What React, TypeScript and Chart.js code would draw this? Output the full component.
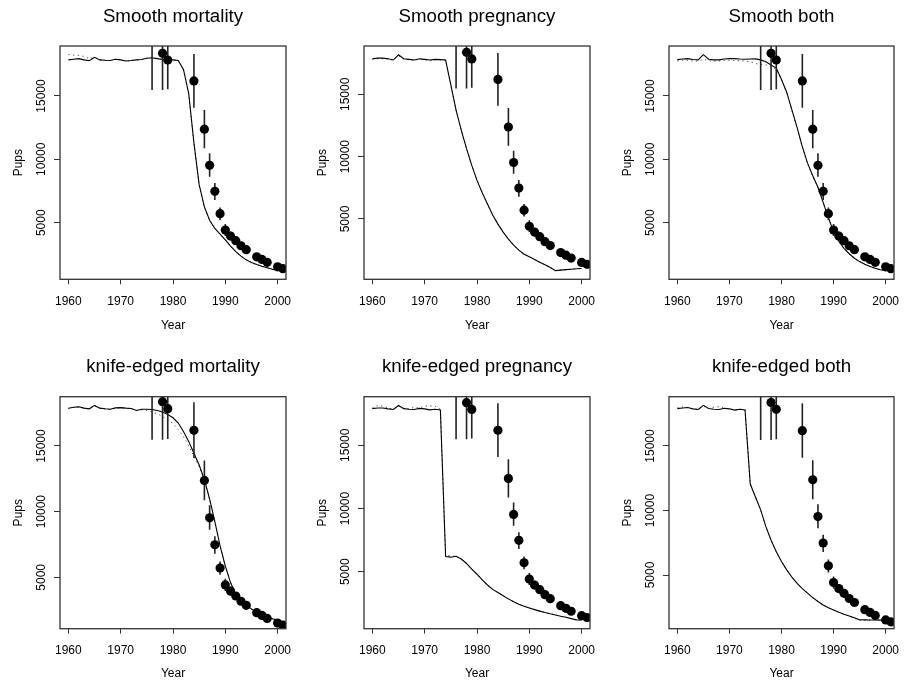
import { useEffect, useRef } from "react";
import { Chart, registerables } from "chart.js";

Chart.register(...registerables);
Chart.defaults.font.family = "'Liberation Sans', Arial, Helvetica, sans-serif";
Chart.defaults.color = "#000";

// ---------------- data ----------------
const years = [
  1960, 1961, 1962, 1963, 1964, 1965, 1966, 1967, 1968, 1969,
  1970, 1971, 1972, 1973, 1974, 1975, 1976, 1977, 1978, 1979,
  1980, 1981, 1982, 1983, 1984, 1985, 1986, 1987, 1988, 1989,
  1990, 1991, 1992, 1993, 1994, 1995, 1996, 1997, 1998, 1999,
  2000,
];
const yearTicks = [1960, 1970, 1980, 1990, 2000];
const pupTicks = [5000, 10000, 15000];

const obsYears = [1976, 1978, 1979, 1984, 1986, 1987, 1988, 1989, 1990, 1991, 1992, 1993, 1994, 1996, 1997, 1998, 2000, 2001];
const obsPups = [19500, 18370, 17840, 16190, 12380, 9530, 7480, 5710, 4420, 3950, 3580, 3180, 2870, 2310, 2100, 1870, 1520, 1370];
const obsLower = [15470, 15470, 15530, 14080, 10870, 8630, 6790, 5200, 3950, 3600, 3280, 2950, 2650, 2120, 1930, 1720, 1400, 1260];
const obsUpper = [23500, 21300, 20150, 18320, 13900, 10480, 8130, 6210, 4890, 4300, 3880, 3410, 3090, 2500, 2270, 2020, 1640, 1480];

const smoothMortalityFit = [
  17850, 17900, 17950, 17850, 17780, 18050, 17850, 17820, 17800, 17900,
  17850, 17760, 17800, 17850, 17880, 17980, 18020, 17950, 17880, 17860,
  17850, 17800, 17100, 15200, 11300, 8000, 6250, 5200, 4550, 4100,
  3650, 3150, 2720, 2360, 2070, 1860, 1700, 1570, 1450, 1330,
  1240,
];
const smoothMortalityAlt = [
  18260, 18230, 18200, 18120, 17950, 18050, 17850, 17820, 17800, 17900,
  17850, 17760, 17800, 17850, 17880, 17980, 18020, 17950, 17880, 17860,
  17850, 17780, 17050, 15100, 11250, 7950, 6230, 5180, 4540, 4090,
  3640, 3140, 2710, 2350, 2060, 1850, 1690, 1560, 1440, 1320,
  1230,
];
const smoothPregnancyFit = [
  17850, 17900, 17900, 17850, 17750, 18170, 17850, 17800, 17750, 17850,
  17800, 17750, 17800, 17780, 17750, 15750, 13740, 12110, 10640, 9300,
  8100, 7100, 6200, 5320, 4590, 3950, 3390, 2900, 2500, 2180,
  1965, 1755, 1540, 1325, 1115, 860, 900, 940, 975, 1005,
  1030,
];
const smoothPregnancyAlt = [
  17800, 17850, 17850, 17800, 17750, 18100, 17800, 17780, 17720, 17820,
  17780, 17720, 17780, 17760, 17720, 15750, 13740, 12110, 10640, 9300,
  8100, 7100, 6200, 5320, 4590, 3950, 3390, 2900, 2500, 2180,
  1965, 1755, 1540, 1325, 1115, 860, 900, 940, 975, 1005,
  1030,
];
const smoothBothFit = [
  17870, 17920, 17950, 17880, 17850, 18260, 17900, 17850, 17850, 17920,
  17950, 17950, 17920, 17900, 17920, 17930, 17850, 17700, 17450, 17200,
  16300, 15300, 13900, 12500, 11000, 9700, 8700, 7800, 6600, 5400,
  4300, 3550, 2980, 2550, 2200, 1930, 1720, 1550, 1400, 1290,
  1220,
];
const smoothBothAlt = [
  17780, 17800, 17820, 17760, 17750, 17900, 17780, 17750, 17760, 17800,
  17820, 17800, 17780, 17760, 17700, 17550, 17500, 17450, 17350, 17100,
  16250, 15250, 13850, 12450, 10950, 9650, 8650, 7750, 6550, 5350,
  4250, 3500, 2950, 2520, 2170, 1900, 1700, 1530, 1380, 1270,
  1210,
];
const knifeMortalityFit = [
  17870, 17950, 17980, 17880, 17830, 18090, 17880, 17830, 17800, 17900,
  17920, 17880, 17850, 17700, 17800, 17800, 17780, 17700, 17580, 17400,
  17150, 16750, 16100, 15350, 14450, 13550, 12450, 10950, 9250, 7400,
  5850, 4600, 3700, 3200, 2870, 2600, 2360, 2150, 1980, 1850,
  1743,
];
const knifeMortalityAlt = [
  17850, 17930, 17960, 17870, 17820, 18060, 17870, 17820, 17790, 17890,
  17900, 17860, 17830, 17700, 17750, 17700, 17600, 17450, 17250, 17000,
  16700, 16250, 15700, 15000, 14200, 13400, 12400, 10950, 9250, 7400,
  5850, 4600, 3700, 3200, 2870, 2600, 2360, 2150, 1980, 1850,
  1743,
];
const knifePregnancyFit = [
  17900, 17950, 17950, 17880, 17830, 18150, 17900, 17850, 17830, 17920,
  17880, 17800, 17850, 17800, 6200, 6150, 6220, 6000, 5650, 5200,
  4800, 4350, 3950, 3600, 3350, 3100, 2850, 2620, 2420, 2270,
  2130, 2000, 1880, 1770, 1670, 1580, 1480, 1390, 1290, 1190,
  1180,
];
const knifePregnancyAlt = [
  17950, 18150, 18100, 17950, 17850, 18100, 17920, 17880, 18000, 17950,
  18100, 18120, 18100, 17850, 6300, 6250, 6230, 6000, 5650, 5200,
  4800, 4350, 3950, 3600, 3350, 3100, 2850, 2620, 2420, 2270,
  2130, 2000, 1880, 1770, 1670, 1580, 1480, 1390, 1290, 1190,
  1180,
];
const knifeBothFit = [
  17900, 17950, 17980, 17880, 17830, 18150, 17900, 17850, 17830, 17920,
  17880, 17780, 17850, 17800, 12050, 11050, 10050, 8750, 7700, 6800,
  6050, 5400, 4830, 4350, 3950, 3600, 3250, 2950, 2680, 2460,
  2280, 2110, 1960, 1830, 1690, 1530, 1520, 1515, 1510, 1505,
  1504,
];
const knifeBothAlt = [
  17950, 18050, 17980, 17880, 17830, 18100, 17900, 18000, 18050, 17920,
  17880, 17780, 17850, 17800, 12050, 11050, 10050, 8750, 7700, 6800,
  6050, 5400, 4830, 4350, 3950, 3600, 3250, 2950, 2680, 2460,
  2280, 2110, 1950, 1800, 1640, 1480, 1500, 1510, 1510, 1505,
  1504,
];

const panelTitles = [
  "Smooth mortality", "Smooth pregnancy", "Smooth both",
  "knife-edged mortality", "knife-edged pregnancy", "knife-edged both",
];
const panelFits = [smoothMortalityFit, smoothPregnancyFit, smoothBothFit, knifeMortalityFit, knifePregnancyFit, knifeBothFit];
const panelAlts = [smoothMortalityAlt, smoothPregnancyAlt, smoothBothAlt, knifeMortalityAlt, knifePregnancyAlt, knifeBothAlt];
const panelYMin = [534, 164, 534, 1089, 491, 838];
const panelYMax = [18945, 18874, 18945, 18752, 18845, 18821];
const xMin = 1958.4;
const xMax = 2001.6;

// ---------------- layout (pixels) ----------------
const colBoxLeft = [60, 364, 669];
const colBoxWidth = [226, 226, 225];
const rowCanvasTop = [0, 350];
const rowCanvasHeight = [340, 337];
const rowBoxTop = [46, 46.7];
const rowBoxBottomFromCanvasBottom = [60.7, 58.3];
const rowYearPad = [7, 6.3];
const SIDE = 60;
const TITLE_SIZE = 18.7;

const boxPlugin = {
  id: "plotBox",
  afterDatasetsDraw(chart: any) {
    const { ctx, chartArea } = chart;
    ctx.save();
    ctx.strokeStyle = "#333";
    ctx.lineWidth = 1.3;
    ctx.strokeRect(chartArea.left, chartArea.top, chartArea.right - chartArea.left, chartArea.bottom - chartArea.top);
    ctx.restore();
  },
};

function Panel({ index }: { index: number }) {
  const ref = useRef<HTMLCanvasElement | null>(null);
  const col = index % 3;
  const row = Math.floor(index / 3);
  const width = colBoxWidth[col] + 2 * SIDE;
  const height = rowCanvasHeight[row];
  const left = colBoxLeft[col] - SIDE;
  const top = rowCanvasTop[row];

  useEffect(() => {
    if (!ref.current) return;
    const fit = panelFits[index];
    const alt = panelAlts[index];
    const errorSegments: any[] = [];
    obsYears.forEach((x, i) => {
      errorSegments.push({ x, y: obsLower[i] });
      errorSegments.push({ x, y: obsUpper[i] });
      errorSegments.push({ x, y: null });
    });
    const titleLine = TITLE_SIZE * 1.2;
    const padTop = 17 - titleLine / 2;
    const padBottom = rowBoxTop[row] - padTop - titleLine;

    const chart = new Chart(ref.current, {
      type: "line",
      data: {
        datasets: [
          {
            label: "observed",
            data: obsYears.map((x, i) => ({ x, y: obsPups[i] })),
            showLine: false,
            pointRadius: 4.6,
            pointBackgroundColor: "#000",
            pointBorderWidth: 0,
            pointHoverRadius: 4.6,
          },
          {
            label: "ci",
            data: errorSegments,
            borderColor: "#222",
            borderWidth: 1.6,
            pointRadius: 0,
            spanGaps: false,
          },
          {
            label: "fit",
            data: years.map((x, i) => ({ x, y: fit[i] })),
            borderColor: "#000",
            borderWidth: 1.1,
            pointRadius: 0,
            tension: 0,
          },
          {
            label: "alt",
            data: years.map((x, i) => ({ x, y: alt[i] })),
            borderColor: "#444",
            borderWidth: 1,
            borderDash: [1.2, 3.5],
            pointRadius: 0,
            tension: 0,
          },
        ],
      },
      options: {
        responsive: false,
        animation: false,
        devicePixelRatio: 1,
        events: [],
        layout: { padding: 0 },
        plugins: {
          legend: { display: false },
          tooltip: { enabled: false },
          title: {
            display: true,
            text: panelTitles[index],
            color: "#000",
            font: { size: TITLE_SIZE, weight: "normal" },
            padding: { top: padTop, bottom: padBottom },
          },
        },
        scales: {
          x: {
            type: "linear",
            position: "bottom",
            min: xMin,
            max: xMax,
            offset: false,
            afterBuildTicks: (s: any) => {
              s.ticks = yearTicks.map((v) => ({ value: v }));
            },
            afterFit: (s: any) => {
              s.height = rowBoxBottomFromCanvasBottom[row];
            },
            grid: { display: true, drawOnChartArea: false, drawTicks: true, tickLength: 5, color: "#333", lineWidth: 1, offset: false },
            border: { display: false },
            ticks: {
              padding: 10,
              font: { size: 12 },
              color: "#000",
              autoSkip: false,
              maxRotation: 0,
              minRotation: 0,
              callback: (v: any) => String(v),
            },
            title: {
              display: true,
              text: "Year",
              font: { size: 12 },
              color: "#000",
              padding: { top: 0, bottom: rowYearPad[row] },
            },
          },
          y: {
            type: "linear",
            position: "left",
            min: panelYMin[index],
            max: panelYMax[index],
            afterBuildTicks: (s: any) => {
              s.ticks = pupTicks.map((v) => ({ value: v }));
            },
            afterFit: (s: any) => {
              s.width = SIDE;
            },
            grid: { display: true, drawOnChartArea: false, drawTicks: true, tickLength: 6, color: "#333", lineWidth: 1 },
            border: { display: false },
            ticks: {
              padding: -4.4,
              crossAlign: "center",
              minRotation: 90,
              maxRotation: 90,
              autoSkip: false,
              font: { size: 12 },
              color: "#000",
              callback: (v: any) => String(v),
            },
            title: {
              display: true,
              text: "Pups",
              font: { size: 12 },
              color: "#000",
              padding: { top: 11, bottom: 0 },
            },
          },
          yr: {
            type: "linear",
            axis: "y",
            position: "right",
            display: true,
            afterFit: (s: any) => {
              s.width = SIDE;
            },
            grid: { display: false },
            border: { display: false },
            ticks: { display: false },
          },
        },
      } as any,
      plugins: [boxPlugin],
    });
    return () => chart.destroy();
  }, [index]);

  return (
    <canvas
      ref={ref}
      width={width}
      height={height}
      style={{ position: "absolute", left, top, width, height }}
    />
  );
}

export default function App() {
  return (
    <div
      style={{
        position: "absolute",
        left: 0,
        top: 0,
        width: 904,
        height: 687,
        overflow: "hidden",
        background: "#fff",
      }}
    >
      {[0, 1, 2, 3, 4, 5].map((i) => (
        <Panel key={i} index={i} />
      ))}
    </div>
  );
}
